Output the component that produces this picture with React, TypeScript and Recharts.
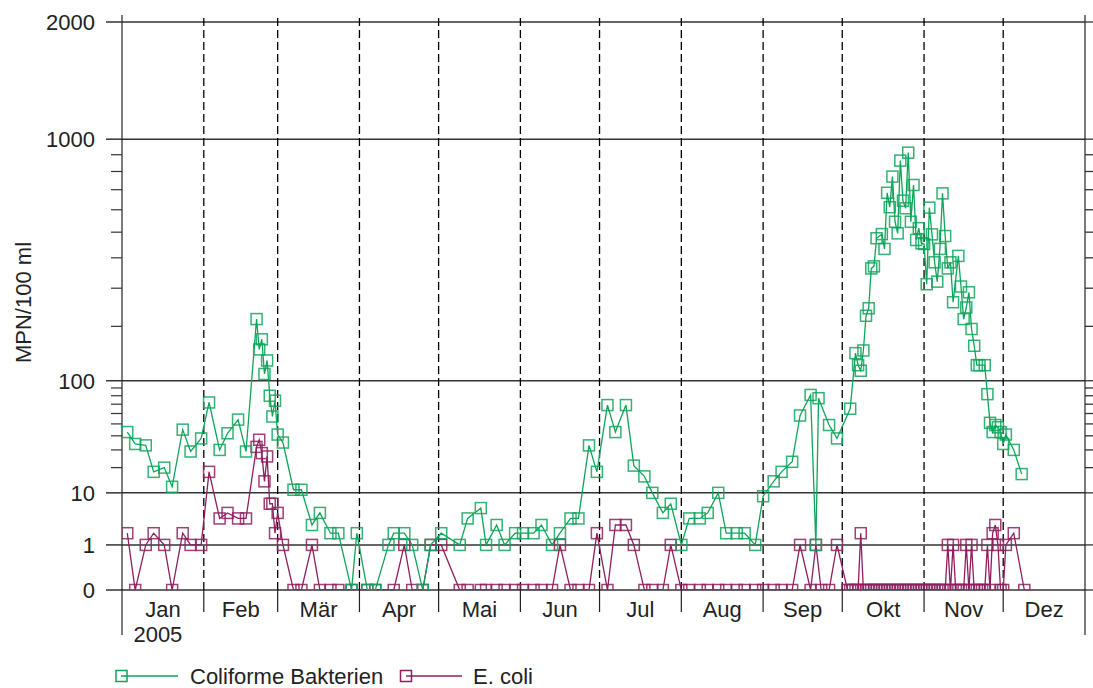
import React from 'react';
import { LineChart, Line, XAxis, YAxis, ReferenceLine } from 'recharts';

// time axis: day of year 2005 (0 = 1 Jan)
const monthNames = ['Jan', 'Feb', 'Mär', 'Apr', 'Mai', 'Jun', 'Jul', 'Aug', 'Sep', 'Okt', 'Nov', 'Dez'];
const monthStarts = [0, 31, 59, 90, 120, 151, 181, 212, 243, 273, 304, 334, 365];

// y axis is a cube-root scale
const majorTicks = [0, 1, 10, 100, 1000, 2000];
const minorTicks = [20, 30, 40, 50, 60, 70, 80, 90, 200, 300, 400, 500, 600, 700, 800, 900];

// Coliforme Bakterien (MPN/100 ml)
const coliDays = [
  2, 5, 9, 12, 16, 19, 23, 26, 30, 33, 37, 40, 44, 47, 51, 52, 53, 54, 55, 56, 57, 58, 59, 61,
  65, 68, 72, 75, 79, 82, 87, 89, 93, 96, 101, 103, 107, 110, 114, 117, 121,
  128, 131, 136, 138, 142, 145, 149, 152, 156, 159, 163, 166, 170, 173, 177, 180,
  184, 187, 191, 194, 198, 201, 205, 208, 212, 215, 219, 222, 226, 229, 233, 236, 240,
  243, 247, 250, 254, 257, 261, 263, 264, 268, 271, 276,
  278, 279, 280, 281, 282, 283, 284, 285, 286, 288, 289, 290, 291, 292, 293, 294, 295, 296,
  297, 298, 299, 300, 301, 302, 303, 304, 305, 306, 307, 308, 309, 310, 311, 312, 313, 314,
  315, 317, 318, 319, 320, 321, 322, 323, 324, 325, 327, 328, 329, 330, 331, 332, 333, 334,
  335, 338, 341,
];
const coliValues = [
  43, 34, 33, 18, 20, 12, 45, 29, 38, 72, 30, 42, 54, 29, 217, 152, 172, 110, 132, 80, 57, 74, 41, 35,
  11, 11, 3, 5, 2, 2, 0, 2, 0, 0, 1, 2, 2, 1, 0, 1, 2,
  1, 4, 6, 1, 3, 1, 2, 2, 2, 3, 1, 2, 4, 4, 33, 18,
  69, 43, 69, 21, 16, 10, 5, 7, 1, 4, 4, 5, 10, 2, 2, 2, 1,
  9, 14, 18, 23, 58, 81, 1, 77, 49, 38, 65,
  145, 124, 115, 150, 225, 244, 363, 370, 475, 492, 433, 684, 612, 771, 545, 495, 864, 644,
  607, 913, 545, 725, 468, 517, 455, 452, 312, 610, 491, 384, 320, 433, 681, 484, 363, 384,
  260, 407, 305, 217, 246, 288, 194, 159, 124, 124, 124, 82, 51, 43, 49, 47, 43, 34,
  41, 30, 17,
];

// E. coli (MPN/100 ml)
const ecoliDays = [
  2, 5, 9, 12, 16, 19, 23, 26, 30, 33, 37, 40, 44, 47, 51, 52, 53, 54, 55, 56, 57, 58, 59, 61,
  65, 68, 72, 75, 79, 82, 87, 93, 96, 103, 107, 110, 114, 117, 121,
  128, 131, 136, 138, 142, 145, 149, 152, 156, 159, 163, 166, 170, 173, 177, 180,
  184, 187, 191, 194, 198, 201, 205, 208, 212, 215, 219, 222, 226, 229, 233, 236, 240,
  243, 247, 250, 254, 257, 261, 263, 265, 268, 271,
  275, 276, 277, 278, 279, 280, 281, 282, 283, 284, 285, 286, 287, 288, 289, 290, 291, 292,
  293, 294, 295, 296, 297, 298, 299, 300, 301, 302, 303, 304, 305, 306, 307, 308, 309, 310,
  311, 312, 313, 314, 315, 316, 317, 318, 319, 320, 321, 322, 323, 324, 325, 326, 327, 328,
  329, 330, 331, 332, 333, 334, 335, 338, 342,
];
const ecoliValues = [
  2, 0, 1, 2, 1, 0, 2, 1, 1, 18, 4, 5, 4, 4, 32, 37, 28, 14, 26, 7, 7, 2, 5, 1,
  0, 0, 1, 0, 0, 0, 0, 0, 0, 0, 1, 0, 0, 1, 1,
  0, 0, 0, 0, 0, 0, 0, 0, 0, 0, 0, 1, 0, 0, 0, 2,
  0, 3, 3, 1, 0, 0, 0, 1, 0, 0, 0, 0, 0, 0, 0, 0, 0,
  0, 0, 0, 0, 1, 0, 1, 0, 0, 1,
  0, 0, 0, 0, 0, 2, 0, 0, 0, 0, 0, 0, 0, 0, 0, 0, 0, 0,
  0, 0, 0, 0, 0, 0, 0, 0, 0, 0, 0, 0, 0, 0, 0, 0, 0, 0,
  0, 0, 1, 0, 1, 0, 0, 0, 0, 1, 0, 1, 0, 0, 0, 0, 0, 1,
  0, 2, 3, 1, 0, 0, 1, 2, 0,
];

const GREEN = '#0ea55a';
const PURPLE = '#8e1f5e';
const INK = '#222';
const FONT = '"Liberation Sans", Arial, sans-serif';

const cube = (v: number) => Math.cbrt(v);
const yMax = cube(2000) + 0.155; // small headroom above the 2000 line

const toSeries = (days: number[], values: number[]) =>
  days.map((d, i) => ({ day: d, v: cube(values[i]) }));
const coliData = toSeries(coliDays, coliValues);
const ecoliData = toSeries(ecoliDays, ecoliValues);

const yTicks = [...majorTicks, ...minorTicks].sort((a, b) => a - b).map(cube);
const monthMids = monthNames.map((_, i) => (monthStarts[i] + monthStarts[i + 1]) / 2);

const squareDot = (color: string) => (props: any) => {
  const { cx, cy, index } = props;
  if (cx == null || cy == null) return <g key={`d${index}`} />;
  return (
    <rect key={`d${index}`} x={cx - 5.5} y={cy - 5.5} width={11} height={11}
      fill="none" stroke={color} strokeOpacity={0.85} strokeWidth={1.5} />
  );
};

const LeftTick = ({ x, y, payload }: any) => {
  const raw = Math.round(Math.pow(payload.value, 3));
  const major = majorTicks.includes(raw);
  return (
    <g>
      <line x1={x - (major ? 16 : 11)} x2={x} y1={y} y2={y} stroke="#333" strokeWidth={major ? 1.5 : 1.2} />
      {major && (
        <text x={x - 27} y={y} dy="0.36em" textAnchor="end" fontSize={22} fontFamily={FONT} fill={INK}>
          {raw}
        </text>
      )}
    </g>
  );
};

const RightTick = ({ x, y }: any) => (
  <line x1={x} x2={x + 8} y1={y} y2={y} stroke="#333" strokeWidth={1.3} />
);

// month boundary marks below the axis; the year ends run a bit longer
const BoundaryTick = ({ x, y, payload }: any) => {
  const end = payload.value === 0 || payload.value === 365;
  return <line x1={x} x2={x} y1={y - 1} y2={y + (end ? 45 : 22)} stroke={INK} strokeWidth={1.2} />;
};

const MonthTick = ({ x, y, payload }: any) => {
  const i = monthMids.indexOf(payload.value);
  return (
    <g fontSize={22} fontFamily={FONT} fill={INK}>
      <text x={x} y={y + 26} textAnchor="middle">{monthNames[i]}</text>
      {i === 0 && <text x={x - 5} y={y + 51} textAnchor="middle">2005</text>}
    </g>
  );
};

const YLabel = ({ viewBox }: any) => {
  const cy = viewBox.y + viewBox.height / 2;
  return (
    <text x={31} y={cy} transform={`rotate(-90 31 ${cy})`} textAnchor="middle"
      fontSize={22} fontFamily={FONT} fill={INK}>
      MPN/100 ml
    </text>
  );
};

const LegendRow = () => (
  <svg width={600} height={38} style={{ position: 'absolute', left: 0, top: 650 }}>
    <g fontSize={22} fontFamily={FONT} fill={INK}>
      <line x1={121} x2={178} y1={26} y2={26} stroke={GREEN} strokeWidth={1.5} />
      <rect x={116} y={20.5} width={11} height={11} fill="none" stroke={GREEN} strokeWidth={1.5} />
      <text x={190} y={34}>Coliforme Bakterien</text>
      <line x1={406} x2={462} y1={26} y2={26} stroke={PURPLE} strokeWidth={1.5} />
      <rect x={400.5} y={20.5} width={11} height={11} fill="none" stroke={PURPLE} strokeWidth={1.5} />
      <text x={473} y={34}>E. coli</text>
    </g>
  </svg>
);

const App = () => {
  return (
    <div style={{ position: 'absolute', left: 0, top: 0, width: 1093, height: 688, background: '#fff' }}>
      <LineChart width={1093} height={688} margin={{ top: 15, right: 0, left: 0, bottom: 38 }}>
        <XAxis xAxisId="b" type="number" dataKey="day" domain={[0, 365]} ticks={monthStarts}
          interval={0} height={1} tickSize={0} tickMargin={0} tickLine={false} axisLine={false}
          tick={<BoundaryTick />} allowDataOverflow />
        <XAxis xAxisId="m" type="number" dataKey="day" domain={[0, 365]} ticks={monthMids}
          interval={0} height={59} tickSize={0} tickMargin={0} tickLine={false} axisLine={false}
          tick={<MonthTick />} allowDataOverflow />
        <YAxis yAxisId="l" type="number" domain={[0, yMax]} ticks={yTicks} interval={0} width={122}
          tickSize={0} tickMargin={0} tickLine={false} axisLine={{ stroke: INK, strokeWidth: 1.2 }}
          tick={<LeftTick />} label={YLabel} allowDataOverflow />
        <YAxis yAxisId="r" orientation="right" type="number" domain={[0, yMax]} ticks={yTicks} interval={0}
          width={8} tickSize={0} tickMargin={0} tickLine={false} axisLine={{ stroke: INK, strokeWidth: 1.2 }}
          tick={<RightTick />} allowDataOverflow />

        {majorTicks.map((t) => (
          <ReferenceLine key={`h${t}`} xAxisId="b" yAxisId="l" y={cube(t)} stroke="#333" strokeWidth={1.5} />
        ))}
        {monthStarts.slice(1, -1).map((m) => (
          <ReferenceLine key={`v${m}`} xAxisId="b" yAxisId="l" x={m} stroke="#000" strokeWidth={1.3}
            strokeDasharray="8 4" />
        ))}

        <Line xAxisId="b" yAxisId="l" data={ecoliData} dataKey="v" name="E. coli" type="linear"
          stroke={PURPLE} strokeWidth={1.3} dot={squareDot(PURPLE)} isAnimationActive={false} />
        <Line xAxisId="b" yAxisId="l" data={coliData} dataKey="v" name="Coliforme Bakterien" type="linear"
          stroke={GREEN} strokeWidth={1.3} dot={squareDot(GREEN)} isAnimationActive={false} />
      </LineChart>
      <LegendRow />
    </div>
  );
};

export default App;
